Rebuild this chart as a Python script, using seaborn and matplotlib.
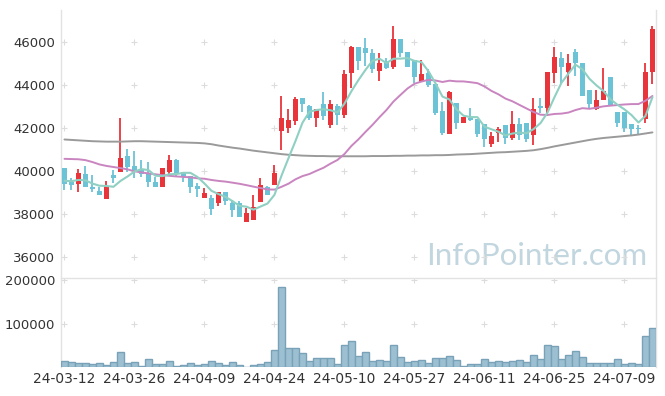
import numpy as np
import pandas as pd
import seaborn as sns
import matplotlib.pyplot as plt

# x tick labels (every 10 trading days)
tick_pos = [0, 10, 20, 30, 40, 50, 60, 70, 80]
tick_dates = ["24-03-12", "24-03-26", "24-04-09", "24-04-24", "24-05-10",
              "24-05-27", "24-06-11", "24-06-25", "24-07-09"]

# daily candles
opens = [40170, 39500, 39400, 39880, 39290, 39090, 38730, 39830, 39980, 40710,
         40250, 40090, 39880, 39490, 39250, 39960, 40520, 39970, 39780, 39310,
         38770, 38770, 38510, 39020, 38540, 38510, 37650, 37730, 38590, 39280,
         39360, 41870, 42030, 42350, 43400, 43030, 42480, 43130, 42150, 43030,
         42620, 44590, 45800, 45730, 45490, 44680, 45150, 44830, 46150, 45540,
         45170, 44170, 44550, 44040, 42800, 41720, 43170, 42250, 42500, 42410,
         42190, 41270, 41790, 42150, 41530, 42180, 42270, 41690, 43050, 42960,
         44580, 45290, 44600, 45560, 45040, 43760, 42900, 43300, 44370, 42740,
         42740, 42180, 42010, 42410, 44600]
highs = [40170, 39700, 40090, 40250, 39830, 39290, 39570, 40060, 42460, 41040,
         40930, 40530, 40420, 39750, 40150, 40740, 40570, 39990, 39800, 39440,
         39240, 38880, 39020, 39020, 38660, 38600, 38310, 38880, 39700, 39300,
         40280, 43480, 42880, 43440, 43400, 43100, 42880, 43690, 43340, 43130,
         44710, 45820, 45800, 46180, 45700, 45480, 45250, 46750, 46150, 45540,
         45170, 45200, 44740, 44040, 43230, 43750, 43170, 42540, 42960, 42410,
         42190, 41840, 42040, 42150, 42820, 42460, 42270, 43420, 43420, 44620,
         45760, 45560, 45470, 45710, 45040, 43760, 43780, 44790, 44370, 42740,
         42740, 42180, 42150, 45050, 46770]
lows = [39130, 39130, 39050, 39260, 39020, 38900, 38730, 39440, 39980, 39980,
        39670, 39750, 39260, 39260, 39250, 39840, 39800, 39490, 38970, 38790,
        38770, 37970, 38390, 38410, 37890, 37890, 37650, 37730, 38590, 38880,
        39360, 40990, 41800, 42140, 42740, 42400, 42080, 42390, 42000, 42150,
        42460, 43870, 44710, 44920, 44550, 44210, 44740, 44740, 45330, 44830,
        44090, 44170, 43930, 42640, 41680, 41720, 41970, 42250, 42360, 41590,
        41120, 41110, 41380, 41250, 41460, 41460, 41380, 41220, 42690, 42570,
        44090, 44080, 43980, 44430, 43510, 42930, 42850, 43300, 43080, 42070,
        41840, 41680, 41680, 42230, 44060]
closes = [39410, 39380, 39900, 39260, 39190, 38920, 39320, 39710, 40620, 40220,
          40080, 39880, 39490, 39290, 40150, 40510, 39930, 39770, 39280, 39190,
          38990, 38230, 39020, 38630, 38200, 37890, 38040, 38320, 39350, 38900,
          39920, 42480, 42390, 43360, 43140, 42490, 42880, 42570, 43130, 42620,
          44530, 45800, 45150, 45480, 44740, 45020, 44790, 46150, 45510, 44860,
          44370, 44520, 44010, 42720, 41760, 43690, 42250, 42520, 42390, 41740,
          41480, 41640, 41960, 41530, 42180, 41710, 41480, 42900, 42930, 44620,
          45300, 44840, 45020, 45040, 43510, 43110, 43300, 43730, 43080, 42260,
          42030, 41990, 41990, 44600, 46620]
volume = [15900, 12900, 10600, 10600, 8300, 10600, 6100, 12900, 36400, 10600,
          12900, 3800, 19700, 8300, 8300, 15900, 3800, 6100, 10600, 6100,
          8300, 15900, 10600, 6100, 12900, 6100, 1500, 6100, 8300, 12900,
          40200, 184100, 44700, 44700, 33300, 15200, 22000, 22000, 22000, 8300,
          52300, 60600, 26500, 36400, 15900, 17400, 15900, 52300, 24200, 13600,
          15900, 17400, 10600, 22000, 22000, 26500, 17400, 3800, 8300, 8300,
          19700, 13600, 15900, 13600, 15900, 17400, 13600, 28800, 19700, 52300,
          49200, 19700, 28800, 37900, 24200, 10600, 10600, 10600, 10600, 19700,
          8300, 10600, 8300, 72000, 91700]

# moving average lines as drawn on the chart
ma5 = [39560, 39540, 39600, 39580, 39428, 39330, 39318, 39280, 39552, 39758,
       39990, 40102, 40058, 39792, 39778, 39864, 39874, 39930, 39928, 39736,
       39432, 39092, 38942, 38812, 38614, 38394, 38356, 38216, 38360, 38500,
       38906, 39794, 40608, 41410, 42258, 42772, 42852, 42888, 42842, 42738,
       43146, 43730, 44246, 44716, 45140, 45238, 45036, 45236, 45242, 45266,
       45136, 45082, 44654, 44096, 43476, 43340, 42886, 42588, 42522, 42518,
       42076, 41954, 41842, 41670, 41758, 41804, 41772, 41960, 42240, 42728,
       43446, 44118, 44542, 44964, 44742, 44304, 43996, 43738, 43346, 43096,
       42880, 42618, 42270, 42574, 43446]
ma20 = [40580, 40570, 40560, 40520, 40430, 40320, 40250, 40200, 40150, 40090,
        40000, 39950, 39900, 39860, 39820, 39790, 39760, 39740, 39720, 39675,
        39654, 39597, 39553, 39521, 39472, 39420, 39356, 39287, 39223, 39157,
        39149, 39279, 39424, 39628, 39777, 39876, 40024, 40164, 40356, 40528,
        40805, 41183, 41490, 41832, 42159, 42516, 42853, 43245, 43553, 43851,
        44073, 44175, 44256, 44224, 44155, 44215, 44184, 44181, 44144, 44100,
        43948, 43740, 43580, 43383, 43255, 43089, 42924, 42761, 42632, 42620,
        42667, 42683, 42733, 42849, 42937, 42908, 42960, 43021, 43055, 43081,
        43109, 43126, 43128, 43281, 43503]
ma120 = [41480, 41460, 41440, 41420, 41400, 41390, 41380, 41380, 41380, 41390,
         41400, 41400, 41390, 41380, 41370, 41360, 41350, 41340, 41330, 41320,
         41300, 41260, 41200, 41150, 41100, 41060, 41010, 40960, 40920, 40880,
         40840, 40800, 40770, 40750, 40730, 40720, 40710, 40710, 40700, 40700,
         40700, 40700, 40700, 40700, 40710, 40710, 40710, 40720, 40720, 40730,
         40730, 40740, 40740, 40750, 40750, 40760, 40780, 40790, 40800, 40820,
         40840, 40860, 40880, 40890, 40910, 40930, 40950, 40980, 41030, 41090,
         41160, 41220, 41280, 41340, 41400, 41460, 41510, 41550, 41580, 41610,
         41640, 41670, 41710, 41760, 41810]

df = pd.DataFrame({"open": opens, "high": highs, "low": lows, "close": closes,
                   "volume": volume, "ma5": ma5, "ma20": ma20, "ma120": ma120})
df["idx"] = np.arange(len(df))

UP = "#e8343b"
DOWN = "#6cc3d6"
GRID = "#e2e2e2"
TXT = "#333333"

sns.set_theme(style="white")
plt.rcParams["font.family"] = ["DejaVu Sans"]

fig = plt.figure(figsize=(6.65, 3.96), dpi=100)
ax = fig.add_axes([0.0917, 0.3005, 0.8947, 0.6742])
axv = fig.add_axes([0.0917, 0.072, 0.8947, 0.226])

# candles: wicks then bodies
up = df["close"] >= df["open"]
colors = np.where(up, UP, DOWN)
ax.vlines(df["idx"], df["low"], df["high"], colors=colors, linewidth=1.3, zorder=2)
body_h = (df["close"] - df["open"]).abs().clip(lower=25)
body_b = df[["open", "close"]].min(axis=1)
ax.bar(df["idx"], body_h, bottom=body_b, width=0.72, color=colors,
       linewidth=0, zorder=3)

# moving averages
sns.lineplot(data=df, x="idx", y="ma120", ax=ax, color="#9a9a9a", linewidth=1.4, zorder=4)
sns.lineplot(data=df, x="idx", y="ma20", ax=ax, color="#c985c0", linewidth=1.4, zorder=4)
sns.lineplot(data=df, x="idx", y="ma5", ax=ax, color="#8fd0c3", linewidth=1.5, zorder=5)

ax.set_xlim(-0.5, len(df) - 0.5)
ax.set_ylim(35084, 47502)
yt = [36000, 38000, 40000, 42000, 44000, 46000]
ax.set_yticks(yt)
ax.set_yticklabels([str(v) for v in yt])
ax.set_xticks([])
ax.set_xlabel("")
ax.set_ylabel("")

# volume bars
sns.barplot(data=df, x="idx", y="volume", ax=axv, color="#9cc0d1",
            edgecolor="#79a2b8", linewidth=1.0, width=1.0, saturation=1,
            errorbar=None, zorder=3)
axv.set_xlim(-0.5, len(df) - 0.5)
axv.set_ylim(0, 205700)
axv.set_yticks([100000, 200000])
axv.set_yticklabels(["100000", "200000"])
axv.set_xticks(tick_pos)
axv.set_xticklabels(tick_dates)
axv.set_xlabel("")
axv.set_ylabel("")

# "+" grid markers at tick crossings
for a, ys in ((ax, yt), (axv, [100000, 200000])):
    gx, gy = np.meshgrid(tick_pos, ys)
    a.scatter(gx.ravel(), gy.ravel(), marker="+", s=22, color="#dcdcdc",
              linewidths=0.8, zorder=1)
    a.tick_params(axis="both", length=0, labelsize=9.5, colors=TXT, pad=4)
    for side in ("left", "right", "top"):
        a.spines[side].set_color(GRID)
        a.spines[side].set_linewidth(1)
    a.spines["bottom"].set_visible(False)

ax.spines["top"].set_visible(False)
axv.tick_params(axis="x", labelsize=10, pad=3)

# watermark
ax.text(0.985, 0.078, "InfoPointer.com", transform=ax.transAxes, ha="right",
        va="center", fontsize=22.5, family=["Lato", "DejaVu Sans"],
        color="#c2d6df", zorder=0)

plt.savefig("out.png", dpi=100)
